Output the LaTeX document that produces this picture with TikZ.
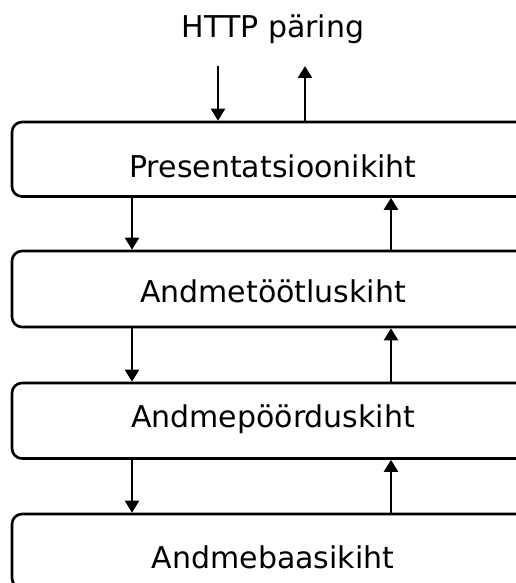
\documentclass[tikz,border=0pt]{standalone}
\usepackage{fontspec}
\setmainfont{DejaVu Sans}
\usetikzlibrary{arrows.meta}
\begin{document}
\begin{tikzpicture}[x=1pt,y=-1pt,
  layer/.style={draw=black, line width=2.6pt, rounded corners=10pt, minimum width=522pt,
    inner sep=0pt, anchor=base, font=\fontsize{30}{36}\selectfont},
  lbl/.style={inner sep=0pt, anchor=base, font=\fontsize{30}{36}\selectfont},
  arr/.style={line width=2.4pt, -{Triangle[width=14pt,length=12pt]}}]
\useasboundingbox (0,0) rectangle (516,583);
\clip (0,0) rectangle (516,583);
\fill[white] (0,0) rectangle (516,583);
\node[lbl] (title) at (273,38) {HTTP päring};
\node[layer, text height=55pt, text depth=19.5pt] (p) at (273,177) {Presentatsioonikiht};
\node[layer, text height=51pt, text depth=25pt] (t) at (273,302) {Andmetöötluskiht};
\node[layer, text height=44pt, text depth=31.5pt] (d) at (273,427) {Andmepöörduskiht};
\node[layer, text height=54pt, text depth=20pt] (b) at (273,568) {Andmebaasikiht};
\coordinate (inx) at (218,66);
\coordinate (outx) at (305,66);
\coordinate (dn) at (132,0);
\coordinate (up) at (391,0);
\draw[arr] (inx) -- (inx |- p.north);
\draw[arr] (outx |- p.north) -- (outx);
\draw[arr] (dn |- p.south) -- (dn |- t.north);
\draw[arr] (up |- t.north) -- (up |- p.south);
\draw[arr] (dn |- t.south) -- (dn |- d.north);
\draw[arr] (up |- d.north) -- (up |- t.south);
\draw[arr] (dn |- d.south) -- (dn |- b.north);
\draw[arr] (up |- b.north) -- (up |- d.south);
\end{tikzpicture}
\end{document}
